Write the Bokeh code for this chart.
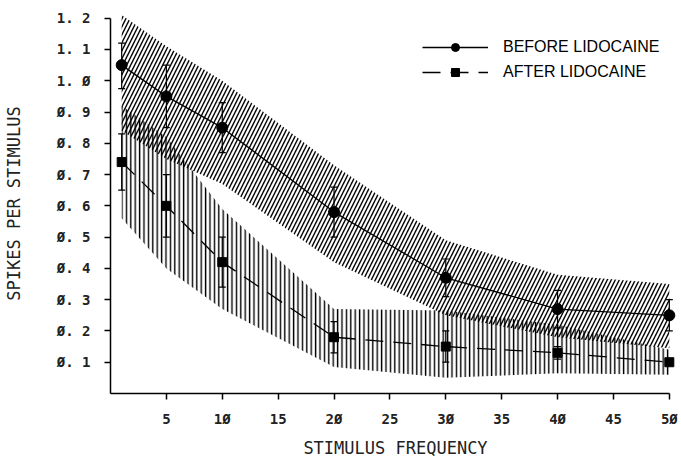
from bokeh.plotting import figure
from bokeh.models import Range1d, FixedTicker, Legend, LegendItem
from bokeh.embed import file_html
from bokeh.resources import INLINE

# ---- data ----
freq = [1, 5, 10, 20, 30, 40, 50]

before_mean = [1.05, 0.95, 0.85, 0.58, 0.37, 0.27, 0.25]
before_err_lo = [0.975, 0.85, 0.77, 0.50, 0.31, 0.21, 0.20]
before_err_hi = [1.12, 1.05, 0.93, 0.66, 0.43, 0.33, 0.30]
before_band_lo = [0.84, 0.75, 0.67, 0.42, 0.25, 0.18, 0.145]
before_band_hi = [1.21, 1.11, 1.00, 0.73, 0.49, 0.38, 0.35]

after_mean = [0.74, 0.60, 0.42, 0.18, 0.15, 0.13, 0.10]
after_err_lo = [0.65, 0.50, 0.34, 0.13, 0.10, 0.11, 0.09]
after_err_hi = [0.83, 0.70, 0.50, 0.23, 0.20, 0.15, 0.11]
after_band_lo = [0.56, 0.40, 0.27, 0.085, 0.05, 0.065, 0.06]
after_band_hi = [0.92, 0.82, 0.59, 0.27, 0.265, 0.22, 0.14]

x_ticks = [5, 10, 15, 20, 25, 30, 35, 40, 45, 50]
x_tick_labels = ["5", "1Ø", "15", "2Ø", "25", "3Ø", "35", "4Ø", "45", "5Ø"]
y_ticks = [0.1, 0.2, 0.3, 0.4, 0.5, 0.6, 0.7, 0.8, 0.9, 1.0, 1.1, 1.2]
y_tick_labels = ["Ø. 1", "Ø. 2", "Ø. 3", "Ø. 4", "Ø. 5", "Ø. 6", "Ø. 7",
                 "Ø. 8", "Ø. 9", "1. Ø", "1. 1", "1. 2"]
x_title = "STIMULUS FREQUENCY"
y_title = "SPIKES PER STIMULUS"

# ---- figure ----
p = figure(width=681, height=462, output_backend="svg", toolbar_location=None,
           x_range=Range1d(0, 51), y_range=Range1d(0, 1.215),
           min_border_left=110, min_border_right=1, min_border_top=13,
           min_border_bottom=69)
p.outline_line_color = None
p.xgrid.visible = False
p.ygrid.visible = False
p.background_fill_color = "white"
p.border_fill_color = "white"

# bands
p.varea(x=freq, y1=before_band_lo, y2=before_band_hi, fill_alpha=0,
        hatch_pattern="right_diagonal_line", hatch_color="black",
        hatch_scale=8, hatch_weight=1.4, hatch_alpha=1.0)
p.varea(x=freq, y1=after_band_lo, y2=after_band_hi, fill_alpha=0,
        hatch_pattern="vertical_line", hatch_color="black",
        hatch_scale=4.4, hatch_weight=1.4, hatch_alpha=1.0)

# error bars
for lo, hi in ((before_err_lo, before_err_hi), (after_err_lo, after_err_hi)):
    p.segment(x0=freq, y0=lo, x1=freq, y1=hi, line_color="black", line_width=1.2)
    p.scatter(x=freq, y=lo, marker="dash", size=7, line_color="black", line_width=1.2)
    p.scatter(x=freq, y=hi, marker="dash", size=7, line_color="black", line_width=1.2)

# lines + markers
bl = p.line(freq, before_mean, line_color="black", line_width=1.3)
bm = p.scatter(freq, before_mean, marker="circle", size=11, fill_color="black",
               line_color="black")
al = p.line(freq, after_mean, line_color="black", line_width=1.3, line_dash="18 10")
am = p.scatter(freq, after_mean, marker="square", size=9, fill_color="black",
               line_color="black")

# legend-only marker renderers (smaller markers as in the key)
lbm = p.scatter(freq[:1], before_mean[:1], marker="circle", size=7,
                fill_color="black", line_color="black", visible=False)
lam = p.scatter(freq[:1], after_mean[:1], marker="square", size=6,
                fill_color="black", line_color="black", visible=False)

legend = Legend(items=[LegendItem(label="BEFORE LIDOCAINE", renderers=[bl, lbm]),
                       LegendItem(label="AFTER LIDOCAINE", renderers=[al, lam])],
                location=(312, 311), padding=0, margin=0, spacing=5,
                glyph_width=66, glyph_height=20, label_height=20,
                label_standoff=15, background_fill_alpha=0, border_line_color=None,
                label_text_font="Liberation Sans", label_text_font_size="16px",
                label_text_color="black")
p.add_layout(legend)

# axes
for ax in (p.xaxis[0], p.yaxis[0]):
    ax.axis_line_color = "black"
    ax.axis_line_width = 1.5
    ax.major_tick_line_color = "black"
    ax.major_tick_line_width = 1.5
    ax.major_tick_out = 6
    ax.major_tick_in = 0
    ax.minor_tick_line_color = None
    ax.major_label_text_font = "DejaVu Sans Mono"
    ax.major_label_text_font_style = "bold"
    ax.major_label_text_font_size = "14px"
    ax.major_label_text_color = "#222222"
    ax.axis_label_text_font = "DejaVu Sans Mono"
    ax.axis_label_text_font_style = "normal"
    ax.axis_label_text_font_size = "17px"
    ax.axis_label_text_color = "#222222"

p.xaxis.ticker = FixedTicker(ticks=x_ticks)
p.xaxis.major_label_overrides = dict(zip(x_ticks, x_tick_labels))
p.xaxis.bounds = (0, 50)
p.xaxis.major_label_standoff = 11
p.xaxis.axis_label = x_title
p.xaxis.axis_label_standoff = 8
p.xaxis.axis_label_text_baseline = "middle"

p.yaxis.ticker = FixedTicker(ticks=y_ticks)
p.yaxis.major_label_overrides = dict(zip(y_ticks, y_tick_labels))
p.yaxis.bounds = (0, 1.2)
p.yaxis.axis_label = y_title
p.yaxis.major_label_standoff = 14
p.yaxis.axis_label_standoff = 30

open("out.html", "w").write(file_html(p, INLINE))
